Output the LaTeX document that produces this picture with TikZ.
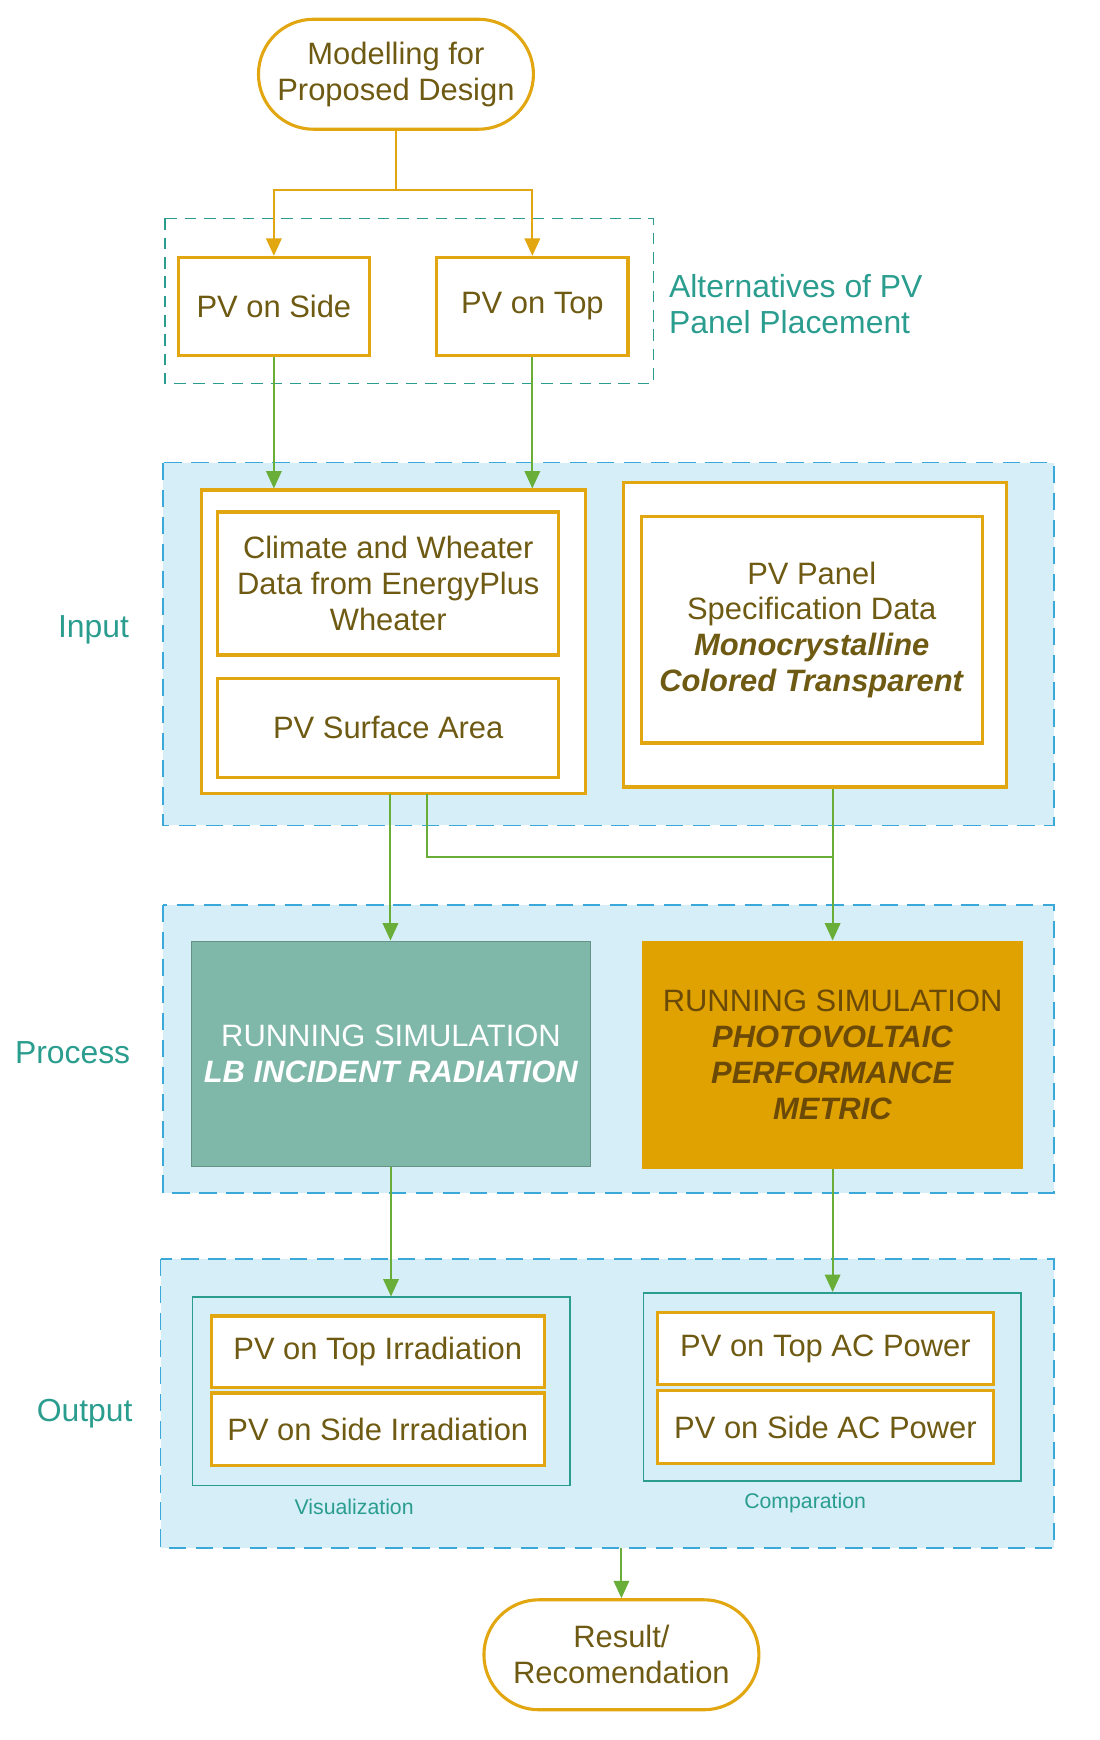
\documentclass[tikz,border=0pt]{standalone}
\usepackage{fontspec}
\setmainfont{Liberation Sans}
\usetikzlibrary{arrows.meta,shapes.misc}
\definecolor{org}{HTML}{E2A610}
\definecolor{txt}{HTML}{6E5A12}
\definecolor{tl}{HTML}{2A9D8F}
\definecolor{pan}{HTML}{D5EEF8}
\definecolor{panb}{HTML}{3BA8DA}
\definecolor{grn}{HTML}{6AAE3A}
\definecolor{tbox}{HTML}{7FB8A8}
\definecolor{obox}{HTML}{E0A200}
\definecolor{otxt}{HTML}{6B4A08}
\begin{document}
\begin{tikzpicture}[x=0.02cm,y=-0.02cm,
  every node/.style={font=\fontsize{16}{18.5}\selectfont,text=txt,align=center,inner sep=0pt},
  ob/.style={draw=org,line width=1.6pt,fill=white},
  pan/.style={draw=panb,fill=pan,dash pattern=on 9pt off 5pt,line width=0.9pt},
  tb/.style={draw=tl,line width=0.9pt},
  term/.style={rounded rectangle,draw=org,line width=1.6pt,fill=white,minimum width=250*0.02cm,minimum height=100*0.02cm},
  oa/.style={draw=org,line width=1pt,-{Triangle[length=9pt,width=8pt]}},
  ga/.style={draw=grn,line width=1pt,-{Triangle[length=9pt,width=8pt]}},
  lab/.style={text=tl,font=\fontsize{16.5}{19}\selectfont}]
\useasboundingbox (0,0) rectangle (1000,1582);
\begin{scope}[yshift=-0.05cm]
% top
\node[term] (start) at (360,65) {Modelling for\\Proposed Design};
\draw[tl,dash pattern=on 6pt off 4pt,line width=0.8pt] (150,196) rectangle (594,346);
\node[ob,minimum width=174*0.02cm,minimum height=89*0.02cm] (side) at (249,276) {PV on Side};
\node[ob,minimum width=174*0.02cm,minimum height=89*0.02cm] (top) at (484,276) {PV on Top};
\node[lab,anchor=west,align=left] (alt) at (608,274) {Alternatives of PV\\Panel Placement};
\coordinate (j0) at (360,170);
\draw[org,line width=1pt] (start.south) -- (j0);
\draw[oa] (j0) -| (side.north);
\draw[oa] (j0) -| (top.north);
% input
\draw[pan] (148,418) rectangle (958,748);
\node[lab] (inl) at (85,570) {Input};
\node[ob,minimum width=349*0.02cm,minimum height=276*0.02cm] (lbox) at (357.5,581) {};
\node[ob,minimum width=310*0.02cm,minimum height=130*0.02cm] (clim) at (353,528) {Climate and Wheater\\Data from EnergyPlus\\Wheater};
\node[ob,minimum width=310*0.02cm,minimum height=90*0.02cm] (surf) at (353,659) {PV Surface Area};
\node[ob,minimum width=348*0.02cm,minimum height=277*0.02cm] (rbox) at (741,574.5) {};
\node[ob,minimum width=310*0.02cm,minimum height=206*0.02cm] (spec) at (738,570) {PV Panel\\Specification Data\\\textbf{\textit{Monocrystalline}}\\\textbf{\textit{Colored Transparent}}};
\draw[ga] (side.south) -- (side.south |- lbox.north);
\draw[ga] (top.south) -- (top.south |- lbox.north);
% process
\draw[pan] (148,820) rectangle (958,1082);
\node[lab] (pl) at (66,955) {Process};
\node[fill=tbox,draw=tbox!80!black,line width=0.4pt,minimum width=363*0.02cm,minimum height=205*0.02cm,text=white] (sim1) at (355.5,955.5) {RUNNING SIMULATION\\\textbf{\textit{LB INCIDENT RADIATION}}};
\node[fill=obox,minimum width=346*0.02cm,minimum height=207*0.02cm,text=otxt] (sim2) at (757,956.5) {RUNNING SIMULATION\\\textbf{\textit{PHOTOVOLTAIC}}\\\textbf{\textit{PERFORMANCE}}\\\textbf{\textit{METRIC}}};
\coordinate (a1) at (388,719);
\coordinate (a2) at (388,777);
\coordinate (a3) at (757,777);
\draw[ga] (355,719) -- (sim1.north -| 355,0);
\draw[grn,line width=1pt] (a1) -- (a2) -- (a3);
\draw[ga] (rbox.south -| sim2.north) -- (sim2.north);
% output
\draw[pan] (146,1142) rectangle (958,1405);
\node[lab] (ol) at (77,1283) {Output};
\node[tb,minimum width=343*0.02cm,minimum height=171*0.02cm] (vis) at (346.5,1262.5) {};
\node[tb,minimum width=343*0.02cm,minimum height=171*0.02cm] (cmp) at (756.5,1258.5) {};
\node[ob,minimum width=303*0.02cm,minimum height=65*0.02cm] (o1) at (343.5,1226.5) {PV on Top Irradiation};
\node[ob,minimum width=303*0.02cm,minimum height=66*0.02cm] (o2) at (343.5,1297) {PV on Side Irradiation};
\node[ob,minimum width=305*0.02cm,minimum height=65*0.02cm] (o3) at (750.5,1223.5) {PV on Top AC Power};
\node[ob,minimum width=305*0.02cm,minimum height=66*0.02cm] (o4) at (750.5,1295) {PV on Side AC Power};
\node[text=tl,font=\fontsize{11}{13}\selectfont] (vl) at (322,1368) {Visualization};
\node[text=tl,font=\fontsize{11}{13}\selectfont] (cl) at (732,1364) {Comparation};
\draw[ga] (sim1.south) -- (sim1.south |- vis.north);
\draw[ga] (sim2.south) -- (sim2.south |- cmp.north);
% end
\node[term] (end) at (565,1502) {Result/\\Recomendation};
\coordinate (ob) at (565,1405);
\draw[ga] (ob) -- (end.north);
\end{scope}
\end{tikzpicture}
\end{document}
